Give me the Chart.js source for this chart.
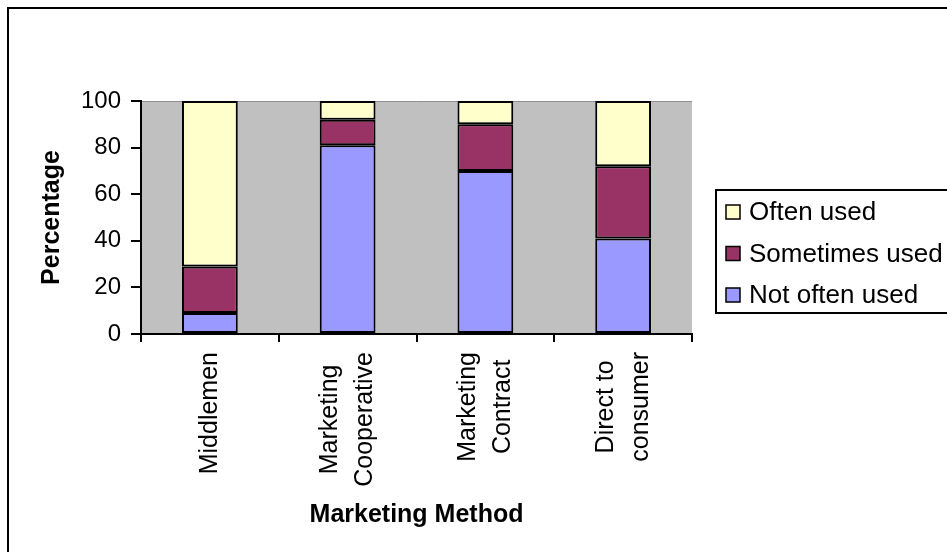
<!DOCTYPE html>
<html>
<head>
<meta charset="utf-8">
<title>Marketing Method</title>
<script src="https://cdn.jsdelivr.net/npm/chart.js@4.4.1/dist/chart.umd.min.js"></script>
<style>
  html, body { margin: 0; padding: 0; background: #fff; }
  canvas { display: block; }
</style>
</head>
<body>
<canvas id="chart" width="947" height="552"></canvas>
<script>
// data
const categories = [["Middlemen"], ["Marketing", "Cooperative"], ["Marketing", "Contract"], ["Direct to", "consumer"]];
const notOftenUsed = [9, 81, 70, 41];
const sometimesUsed = [20, 11, 20, 31];
const oftenUsed = [71, 8, 10, 28];
const yTicks = [0, 20, 40, 60, 80, 100];

const FONT = "'Liberation Sans', Arial, sans-serif";

// grey plot area + outer frame
const backdrop = {
  id: "backdrop",
  beforeDraw(chart) {
    const { ctx, chartArea: a } = chart;
    ctx.save();
    ctx.fillStyle = "#fff";
    ctx.fillRect(0, 0, chart.width, chart.height);
    ctx.strokeStyle = "#000";
    ctx.lineWidth = 2;
    ctx.strokeRect(8, 8, chart.width + 20, chart.height + 20);
    ctx.fillStyle = "#C0C0C0";
    ctx.fillRect(a.left, a.top, a.right - a.left, a.bottom - a.top);
    ctx.strokeStyle = "#909090";
    ctx.lineWidth = 1;
    ctx.beginPath();
    ctx.moveTo(a.left, a.top + 0.5);
    ctx.lineTo(a.right, a.top + 0.5);
    ctx.stroke();
    ctx.restore();
  }
};

// vertical category labels, lines centred on each other, block hung from the top
const xLabels = {
  id: "xLabels",
  afterDraw(chart) {
    const { ctx } = chart;
    const xs = chart.scales.x;
    const lineGap = 35;
    ctx.save();
    ctx.font = "25px " + FONT;
    ctx.fillStyle = "#000";
    ctx.textAlign = "center";
    ctx.textBaseline = "middle";
    chart.data.labels.forEach((lines, i) => {
      const w = Math.max(...lines.map(l => ctx.measureText(l).width));
      ctx.save();
      ctx.translate(xs.getPixelForTick(i), 352 + w / 2);
      ctx.rotate(-Math.PI / 2);
      lines.forEach((l, j) => ctx.fillText(l, 0, (j - (lines.length - 1) / 2) * lineGap));
      ctx.restore();
    });
    ctx.restore();
  }
};

// boxed legend on the right, top entry = last dataset
const boxLegend = {
  id: "boxLegend",
  afterDraw(chart) {
    const { ctx } = chart;
    const sets = chart.data.datasets.slice().reverse();
    ctx.save();
    ctx.fillStyle = "#fff";
    ctx.fillRect(716, 190, 260, 123);
    ctx.strokeStyle = "#000";
    ctx.lineWidth = 2;
    ctx.strokeRect(716, 190, 260, 123);
    ctx.font = "26px " + FONT;
    ctx.textBaseline = "middle";
    sets.forEach((ds, i) => {
      const y = 212 + i * 41.5;
      ctx.fillStyle = ds.backgroundColor;
      ctx.fillRect(726, y - 7, 14, 14);
      ctx.lineWidth = 1.5;
      ctx.strokeRect(726, y - 7, 14, 14);
      ctx.fillStyle = "#000";
      ctx.fillText(ds.label, 749, y + 1);
    });
    ctx.restore();
  }
};

const barStyle = { borderColor: "#000", borderWidth: 2, borderSkipped: false, barPercentage: 0.405, categoryPercentage: 1 };

new Chart(document.getElementById("chart"), {
  type: "bar",
  data: {
    labels: categories,
    datasets: [
      { label: "Not often used", data: notOftenUsed, backgroundColor: "#9999FF", ...barStyle },
      { label: "Sometimes used", data: sometimesUsed, backgroundColor: "#993366", ...barStyle },
      { label: "Often used", data: oftenUsed, backgroundColor: "#FFFFCC", ...barStyle }
    ]
  },
  options: {
    responsive: false,
    animation: false,
    layout: { padding: { left: 37, top: 101, right: 255, bottom: 22 } },
    plugins: {
      legend: { display: false },
      tooltip: { enabled: false }
    },
    scales: {
      x: {
        stacked: true,
        grid: { offset: true, drawOnChartArea: false, tickLength: 8, color: "#000", lineWidth: 2 },
        border: { display: true, color: "#000", width: 2 },
        ticks: { display: false, autoSkip: false },
        title: {
          display: true,
          text: "Marketing Method",
          color: "#000",
          font: { family: FONT, size: 25, weight: "bold" },
          padding: 0
        },
        afterFit(scale) { scale.height = 552 - 22 - 334; }
      },
      y: {
        stacked: true,
        min: 0,
        max: 100,
        afterBuildTicks(scale) { scale.ticks = yTicks.map(v => ({ value: v })); },
        grid: { drawOnChartArea: false, tickLength: 10, color: "#000", lineWidth: 2 },
        border: { display: true, color: "#000", width: 2 },
        ticks: { color: "#000", font: { family: FONT, size: 24 }, padding: 10 },
        title: {
          display: true,
          text: "Percentage",
          color: "#000",
          font: { family: FONT, size: 25, weight: "bold" },
          padding: 0
        },
        afterFit(scale) { scale.width = 141 - 37; }
      }
    }
  },
  plugins: [backdrop, xLabels, boxLegend]
});
</script>
</body>
</html>
